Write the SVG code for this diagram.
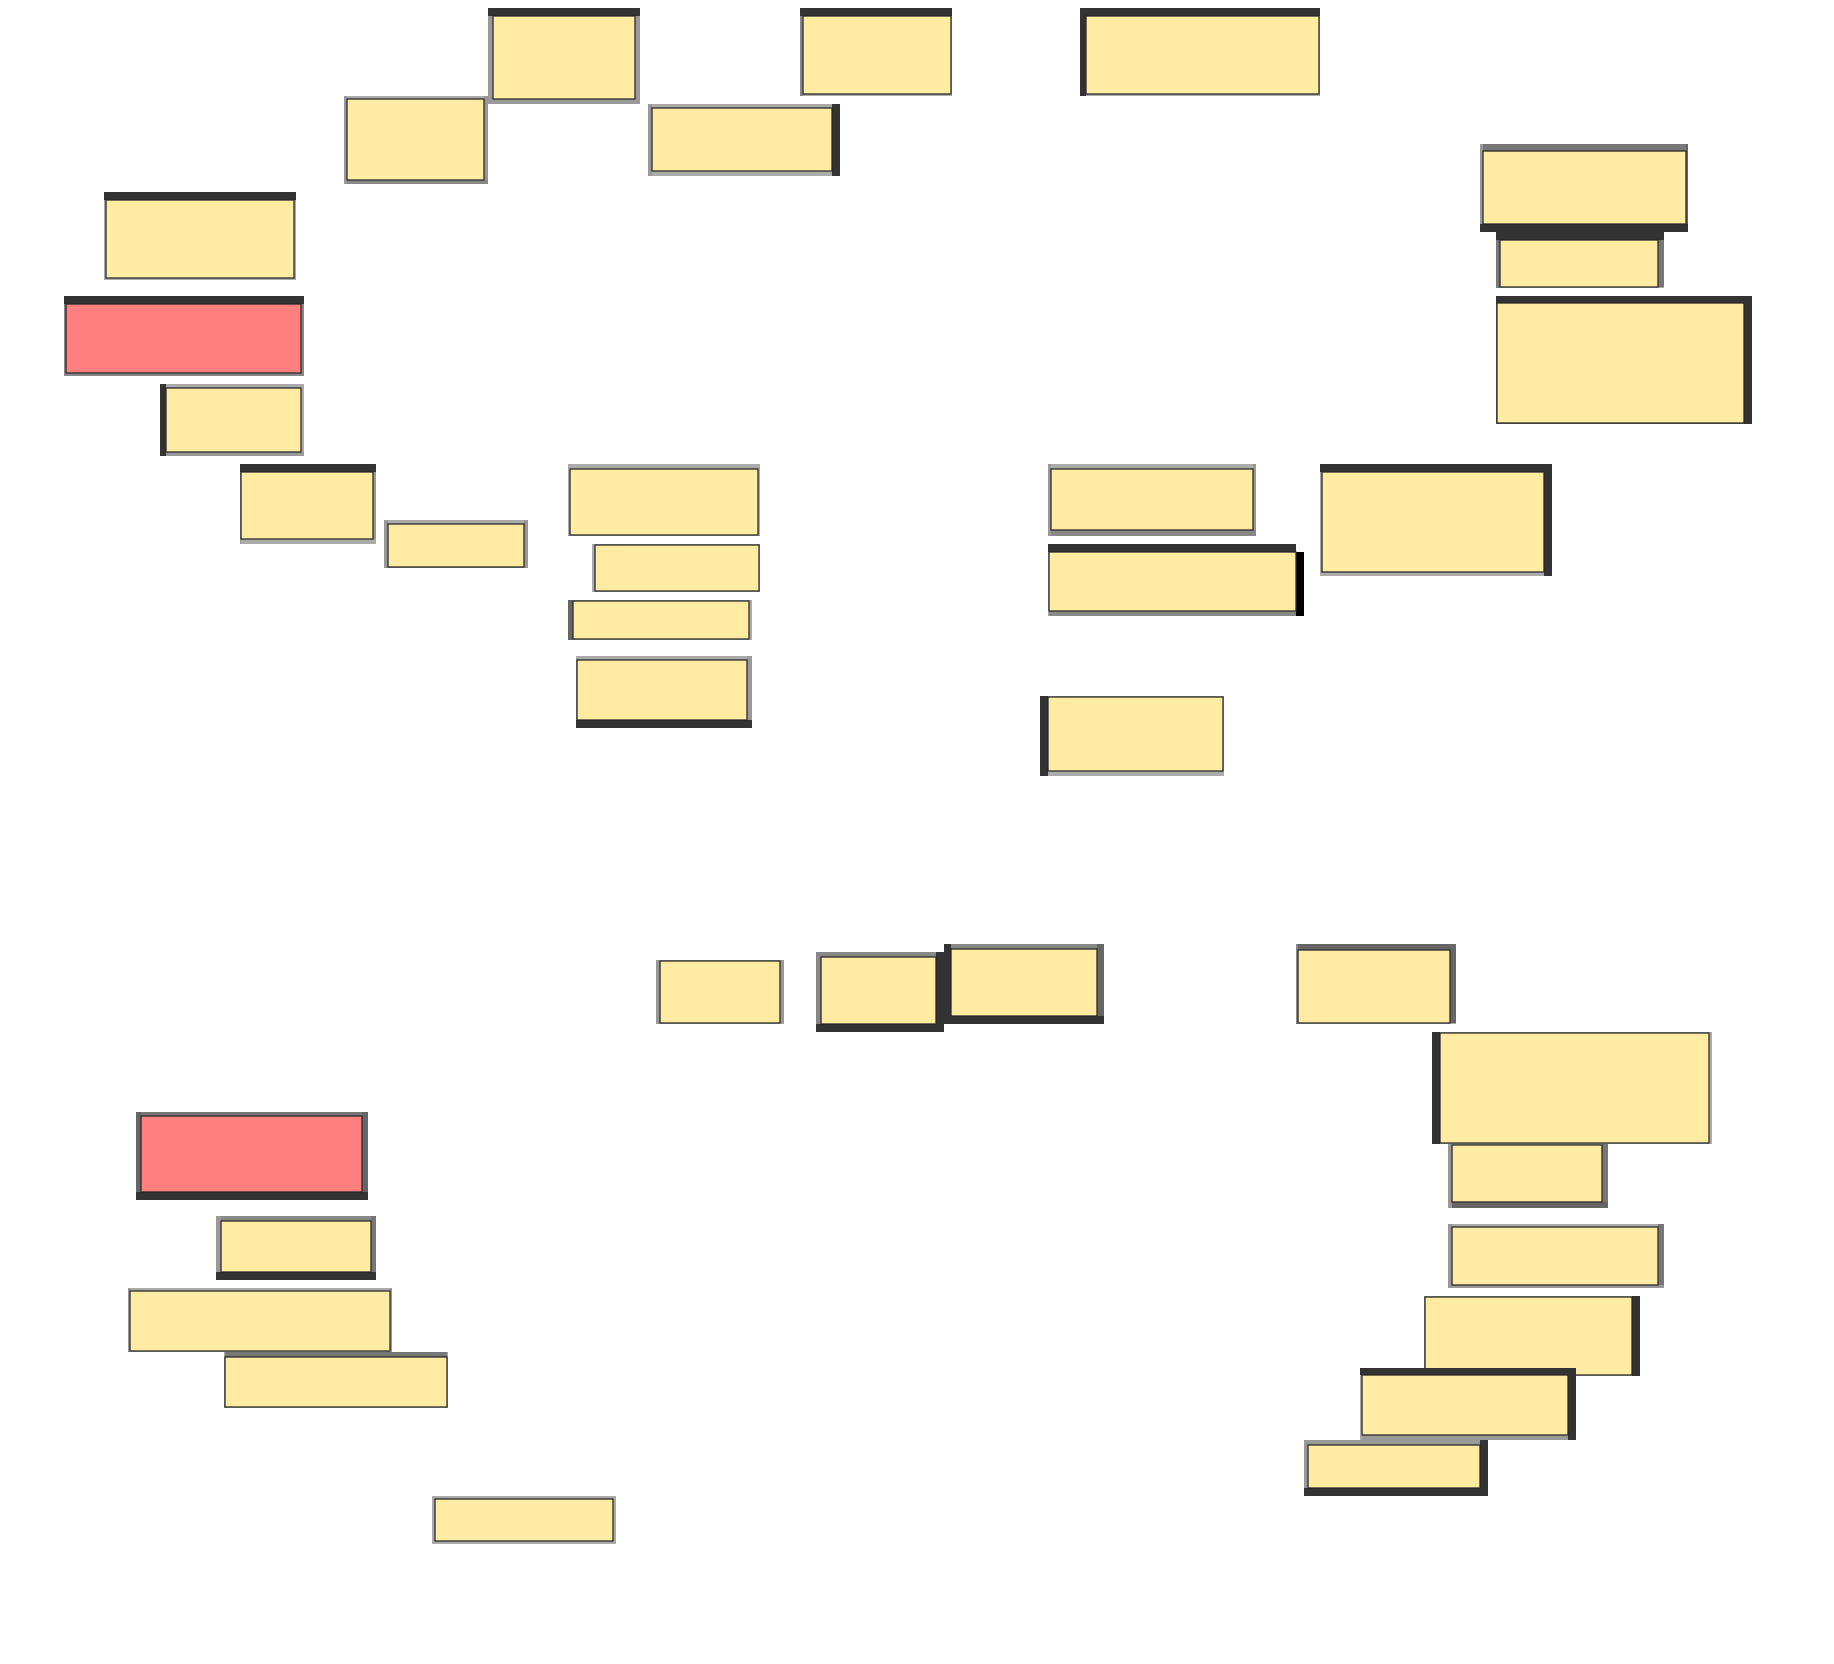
<svg xmlns="http://www.w3.org/2000/svg" width="1834" height="1664" viewBox="0 0 1834 1664">
<style>
.f{fill:#FFEBA1;stroke:#2b2b2b;stroke-width:1.3}
.r{fill:#FF7E7E;stroke:#2b2b2b;stroke-width:1.3}
.d{fill:#333}.k{fill:#000}
.g1{fill:#ababab}.g2{fill:#999}.g3{fill:#888}.g4{fill:#777}.g5{fill:#666}
</style>
<rect width="1834" height="1664" fill="#fff"/>
<g id="connectors"></g>
<g id="n1"><rect class="g2" x="635" y="8" width="5" height="96"/><rect class="g2" x="488" y="99" width="152" height="5"/><rect class="g2" x="488" y="8" width="5" height="96"/><rect class="d" x="488" y="8" width="152" height="8"/><rect class="f" x="493" y="16" width="142" height="83"/></g>
<g id="n2"><rect class="g1" x="344" y="96" width="144" height="3"/><rect class="g2" x="484" y="96" width="4" height="88"/><rect class="g3" x="344" y="180" width="144" height="4"/><rect class="g2" x="344" y="96" width="3" height="88"/><rect class="f" x="347" y="99" width="137" height="81"/></g>
<g id="n3"><rect class="g1" x="648" y="104" width="192" height="4"/><rect class="g1" x="648" y="171" width="192" height="5"/><rect class="g2" x="648" y="104" width="4" height="72"/><rect class="d" x="832" y="104" width="8" height="72"/><rect class="f" x="652" y="108" width="180" height="63"/></g>
<g id="n4"><rect class="g1" x="951" y="8" width="1" height="88"/><rect class="g1" x="800" y="94" width="152" height="2"/><rect class="g3" x="800" y="8" width="3" height="88"/><rect class="d" x="800" y="8" width="152" height="8"/><rect class="f" x="803" y="16" width="148" height="78"/></g>
<g id="n5"><rect class="g1" x="1319" y="8" width="1" height="88"/><rect class="g1" x="1080" y="94" width="240" height="2"/><rect class="d" x="1080" y="8" width="6" height="88"/><rect class="d" x="1080" y="8" width="240" height="8"/><rect class="f" x="1086" y="16" width="233" height="78"/></g>
<g id="n6"><rect class="g1" x="294" y="192" width="2" height="88"/><rect class="g1" x="104" y="278" width="192" height="2"/><rect class="g1" x="104" y="192" width="2" height="88"/><rect class="d" x="104" y="192" width="192" height="8"/><rect class="f" x="106" y="200" width="188" height="78"/></g>
<g id="n7"><rect class="g3" x="301" y="296" width="3" height="80"/><rect class="g3" x="64" y="373" width="240" height="3"/><rect class="g3" x="64" y="296" width="2" height="80"/><rect class="d" x="64" y="296" width="240" height="8"/><rect class="r" x="66" y="304" width="235" height="69"/></g>
<g id="n8"><rect class="g1" x="160" y="384" width="144" height="4"/><rect class="g1" x="301" y="384" width="3" height="72"/><rect class="g2" x="160" y="452" width="144" height="4"/><rect class="d" x="160" y="384" width="6" height="72"/><rect class="f" x="166" y="388" width="135" height="64"/></g>
<g id="n9"><rect class="g2" x="373" y="464" width="3" height="80"/><rect class="g1" x="240" y="539" width="136" height="5"/><rect class="g2" x="240" y="464" width="1" height="80"/><rect class="d" x="240" y="464" width="136" height="8"/><rect class="f" x="241" y="472" width="132" height="67"/></g>
<g id="n10"><rect class="g1" x="384" y="520" width="144" height="4"/><rect class="g2" x="524" y="520" width="4" height="48"/><rect class="g2" x="384" y="567" width="144" height="1"/><rect class="g2" x="384" y="520" width="4" height="48"/><rect class="f" x="388" y="524" width="136" height="43"/></g>
<g id="n11"><rect class="g1" x="568" y="464" width="192" height="5"/><rect class="g1" x="758" y="464" width="2" height="72"/><rect class="g1" x="568" y="535" width="192" height="1"/><rect class="g1" x="568" y="464" width="2" height="72"/><rect class="f" x="570" y="469" width="188" height="66"/></g>
<g id="n12"><rect class="g1" x="592" y="544" width="168" height="1"/><rect class="g1" x="759" y="544" width="1" height="48"/><rect class="g1" x="592" y="591" width="168" height="1"/><rect class="g1" x="592" y="544" width="3" height="48"/><rect class="f" x="595" y="545" width="164" height="46"/></g>
<g id="n13"><rect class="g1" x="568" y="600" width="184" height="1"/><rect class="g1" x="749" y="600" width="3" height="40"/><rect class="g1" x="568" y="639" width="184" height="1"/><rect class="g5" x="568" y="600" width="5" height="40"/><rect class="f" x="573" y="601" width="176" height="38"/></g>
<g id="n14"><rect class="g1" x="576" y="656" width="176" height="4"/><rect class="g2" x="747" y="656" width="5" height="72"/><rect class="g1" x="576" y="656" width="1" height="72"/><rect class="d" x="576" y="720" width="176" height="8"/><rect class="f" x="577" y="660" width="170" height="60"/></g>
<g id="n15"><rect class="g1" x="1048" y="464" width="208" height="5"/><rect class="g2" x="1253" y="464" width="3" height="72"/><rect class="g3" x="1048" y="530" width="208" height="6"/><rect class="g2" x="1048" y="464" width="3" height="72"/><rect class="f" x="1051" y="469" width="202" height="61"/></g>
<g id="n16"><rect class="g3" x="1048" y="611" width="248" height="5"/><rect class="g1" x="1048" y="544" width="1" height="72"/><rect class="d" x="1048" y="544" width="248" height="8"/><rect class="k" x="1296" y="552" width="8" height="64"/><rect class="f" x="1049" y="552" width="247" height="59"/></g>
<g id="n17"><rect class="g1" x="1320" y="572" width="232" height="4"/><rect class="g1" x="1320" y="464" width="2" height="112"/><rect class="d" x="1320" y="464" width="232" height="8"/><rect class="d" x="1544" y="464" width="8" height="112"/><rect class="f" x="1322" y="472" width="222" height="100"/></g>
<g id="n18"><rect class="g1" x="1040" y="696" width="184" height="1"/><rect class="g1" x="1223" y="696" width="1" height="80"/><rect class="g1" x="1040" y="771" width="184" height="5"/><rect class="d" x="1040" y="696" width="8" height="80"/><rect class="f" x="1048" y="697" width="175" height="74"/></g>
<g id="n19"><rect class="g4" x="1480" y="144" width="208" height="7"/><rect class="g5" x="1686" y="144" width="2" height="88"/><rect class="g2" x="1480" y="144" width="3" height="88"/><rect class="d" x="1480" y="224" width="208" height="8"/><rect class="f" x="1483" y="151" width="203" height="73"/></g>
<g id="n20"><rect class="g4" x="1658" y="232" width="6" height="56"/><rect class="g1" x="1496" y="287" width="168" height="1"/><rect class="g4" x="1496" y="232" width="4" height="56"/><rect class="d" x="1496" y="232" width="168" height="8"/><rect class="f" x="1500" y="240" width="158" height="47"/></g>
<g id="n21"><rect class="g5" x="1496" y="423" width="256" height="1"/><rect class="g5" x="1496" y="296" width="1" height="128"/><rect class="d" x="1496" y="296" width="256" height="7"/><rect class="d" x="1744" y="296" width="8" height="128"/><rect class="f" x="1497" y="303" width="247" height="120"/></g>
<g id="n22"><rect class="g1" x="656" y="960" width="128" height="1"/><rect class="g2" x="780" y="960" width="4" height="64"/><rect class="g1" x="656" y="1023" width="128" height="1"/><rect class="g2" x="656" y="960" width="4" height="64"/><rect class="f" x="660" y="961" width="120" height="62"/></g>
<g id="n23"><rect class="g3" x="816" y="952" width="128" height="5"/><rect class="g3" x="816" y="952" width="5" height="80"/><rect class="d" x="936" y="952" width="8" height="80"/><rect class="d" x="816" y="1024" width="128" height="8"/><rect class="f" x="821" y="957" width="115" height="67"/></g>
<g id="n24"><rect class="g3" x="944" y="944" width="160" height="5"/><rect class="g5" x="1097" y="944" width="7" height="80"/><rect class="d" x="944" y="944" width="7" height="80"/><rect class="d" x="944" y="1016" width="160" height="8"/><rect class="f" x="951" y="949" width="146" height="67"/></g>
<g id="n25"><rect class="g5" x="1296" y="944" width="160" height="6"/><rect class="g5" x="1450" y="944" width="6" height="80"/><rect class="g1" x="1296" y="1023" width="160" height="1"/><rect class="g3" x="1296" y="944" width="2" height="80"/><rect class="f" x="1298" y="950" width="152" height="73"/></g>
<g id="n26"><rect class="g1" x="1432" y="1032" width="280" height="1"/><rect class="g1" x="1709" y="1032" width="3" height="112"/><rect class="g1" x="1432" y="1143" width="280" height="1"/><rect class="d" x="1432" y="1032" width="8" height="112"/><rect class="f" x="1440" y="1033" width="269" height="110"/></g>
<g id="n27"><rect class="g1" x="1448" y="1144" width="160" height="1"/><rect class="g4" x="1602" y="1144" width="6" height="64"/><rect class="g5" x="1448" y="1202" width="160" height="6"/><rect class="g2" x="1448" y="1144" width="4" height="64"/><rect class="f" x="1452" y="1145" width="150" height="57"/></g>
<g id="n28"><rect class="g1" x="1448" y="1224" width="216" height="3"/><rect class="g4" x="1658" y="1224" width="6" height="64"/><rect class="g2" x="1448" y="1285" width="216" height="3"/><rect class="g2" x="1448" y="1224" width="4" height="64"/><rect class="f" x="1452" y="1227" width="206" height="58"/></g>
<g id="n29"><rect class="g1" x="1424" y="1296" width="216" height="1"/><rect class="g1" x="1424" y="1375" width="216" height="1"/><rect class="g1" x="1424" y="1296" width="1" height="80"/><rect class="d" x="1632" y="1296" width="8" height="80"/><rect class="f" x="1425" y="1297" width="207" height="78"/></g>
<g id="n30"><rect class="g2" x="1360" y="1435" width="216" height="5"/><rect class="g1" x="1360" y="1368" width="2" height="72"/><rect class="d" x="1360" y="1368" width="216" height="7"/><rect class="d" x="1568" y="1368" width="8" height="72"/><rect class="f" x="1362" y="1375" width="206" height="60"/></g>
<g id="n31"><rect class="g2" x="1304" y="1440" width="184" height="5"/><rect class="g2" x="1304" y="1440" width="4" height="56"/><rect class="d" x="1480" y="1440" width="8" height="56"/><rect class="d" x="1304" y="1488" width="184" height="8"/><rect class="f" x="1308" y="1445" width="172" height="43"/></g>
<g id="n32"><rect class="g4" x="136" y="1112" width="232" height="4"/><rect class="g5" x="362" y="1112" width="6" height="88"/><rect class="g5" x="136" y="1112" width="5" height="88"/><rect class="d" x="136" y="1192" width="232" height="8"/><rect class="r" x="141" y="1116" width="221" height="76"/></g>
<g id="n33"><rect class="g3" x="216" y="1216" width="160" height="5"/><rect class="g4" x="371" y="1216" width="5" height="64"/><rect class="g2" x="216" y="1216" width="5" height="64"/><rect class="d" x="216" y="1272" width="160" height="8"/><rect class="f" x="221" y="1221" width="150" height="51"/></g>
<g id="n34"><rect class="g1" x="128" y="1288" width="264" height="3"/><rect class="g2" x="390" y="1288" width="2" height="64"/><rect class="g1" x="128" y="1351" width="264" height="1"/><rect class="g2" x="128" y="1288" width="2" height="64"/><rect class="f" x="130" y="1291" width="260" height="60"/></g>
<g id="n35"><rect class="g4" x="224" y="1352" width="224" height="5"/><rect class="g1" x="447" y="1352" width="1" height="56"/><rect class="g1" x="224" y="1407" width="224" height="1"/><rect class="g1" x="224" y="1352" width="1" height="56"/><rect class="f" x="225" y="1357" width="222" height="50"/></g>
<g id="n36"><rect class="g1" x="432" y="1496" width="184" height="3"/><rect class="g1" x="613" y="1496" width="3" height="48"/><rect class="g1" x="432" y="1541" width="184" height="3"/><rect class="g1" x="432" y="1496" width="3" height="48"/><rect class="f" x="435" y="1499" width="178" height="42"/></g>
</svg>
